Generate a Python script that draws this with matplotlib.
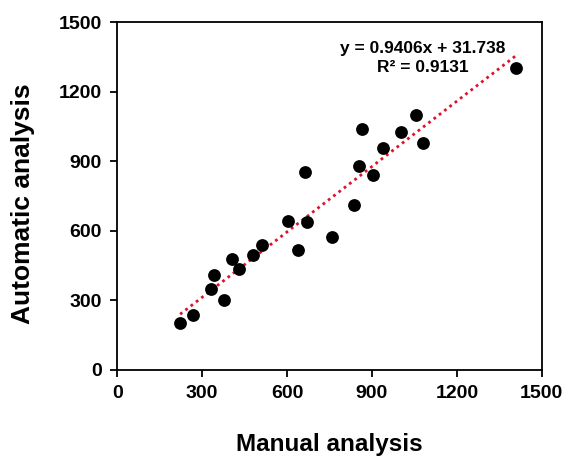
import matplotlib
matplotlib.use("Agg")
import matplotlib.pyplot as plt
import numpy as np

plt.rcParams['font.family'] = ['Liberation Sans', 'DejaVu Sans']
plt.rcParams['font.weight'] = 'bold'

manual = [222, 269, 331, 342, 378, 406, 431, 481, 510, 602, 637, 669, 662,
          758, 838, 905, 855, 866, 938, 1001, 1056, 1082, 1408]
automatic = [202, 238, 350, 410, 303, 479, 436, 496, 540, 642, 519, 639, 856,
             576, 714, 840, 880, 1039, 960, 1027, 1099, 981, 1303]
slope = 0.9406
intercept = 31.738
r2 = 0.9131
ticks = [0, 300, 600, 900, 1200, 1500]

fig = plt.figure(figsize=(5.64, 4.59), dpi=100)
ax = fig.add_axes([0.208, 0.194, 0.9605 - 0.208, 0.951 - 0.194])

ax.scatter(manual, automatic, s=85, color='black', zorder=3, linewidths=0)
xs = np.array([min(manual), max(manual)])
ax.plot(xs, slope * xs + intercept, linestyle=(0, (1, 1.4)), color='#e0102a',
        linewidth=2.0, zorder=2)

ax.set_xlim(0, 1500)
ax.set_ylim(0, 1500)
ax.set_xticks(ticks)
ax.set_yticks(ticks)
ax.tick_params(direction='out', length=5, width=1.3, labelsize=14, pad=6,
               top=False, right=False)
for lab in ax.get_xticklabels() + ax.get_yticklabels():
    lab.set_fontweight('bold')
for sp in ax.spines.values():
    sp.set_linewidth(1.3)

ax.text(0.72, 0.925, f"y = {slope}x + {intercept}", transform=ax.transAxes,
        ha='center', va='center', fontsize=12.5, fontweight='bold')
ax.text(0.72, 0.87, f"R² = {r2}", transform=ax.transAxes,
        ha='center', va='center', fontsize=12.5, fontweight='bold')

fig.text(0.584, 1 - 445 / 459, "Manual analysis", ha='center', va='center',
         fontsize=17.5, fontweight='bold')
fig.text(23 / 564, 1 - 204 / 459, "Automatic analysis", ha='center', va='center',
         rotation=90, fontsize=19, fontweight='bold')

fig.savefig("out.png", dpi=100)
